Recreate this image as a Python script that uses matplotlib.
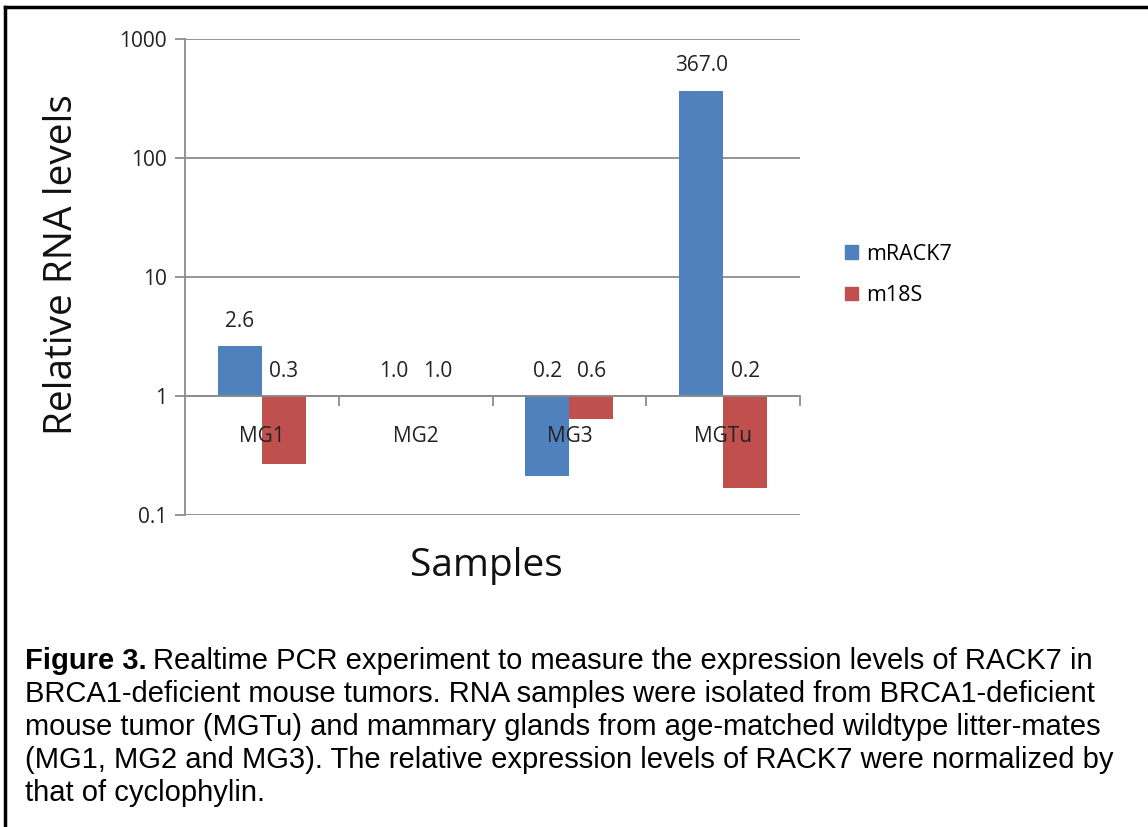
"""
RACK7 realtime PCR figure: relative RNA levels on a log scale, bars grown from 1.
"""
import matplotlib
matplotlib.use('Agg')
import matplotlib.pyplot as plt
import numpy as np
from matplotlib.lines import Line2D

samples = ['MG1', 'MG2', 'MG3', 'MGTu']
series_names = ['mRACK7', 'm18S']
mrack7 = [2.63, 1.0, 0.213, 367.0]
m18s = [0.268, 1.0, 0.64, 0.169]
y_ticks = [0.1, 1, 10, 100, 1000]
y_ticklabels = ['0.1', '1', '10', '100', '1000']

caption_lines = [
    'Realtime PCR experiment to measure the expression levels of RACK7 in',
    'BRCA1-deficient mouse tumors. RNA samples were isolated from BRCA1-deficient',
    'mouse tumor (MGTu) and mammary glands from age-matched wildtype litter-mates',
    '(MG1, MG2 and MG3). The relative expression levels of RACK7 were normalized by',
    'that of cyclophylin.',
]

BLUE = '#4F81BD'
RED = '#C0504D'
GRID = '#8C8C8C'
TXT = '#222222'
chart_font = 'Open Sans'
fs = 15

W, H = 1148, 827
fig = plt.figure(figsize=(W / 100, H / 100), dpi=100)
fig.patch.set_facecolor('white')

ax = fig.add_axes([185 / W, 1 - 515 / H, (800 - 185) / W, (515 - 39) / H])
ax.set_yscale('log')
ax.set_ylim(0.1, 1000)
ax.set_xlim(-0.5, len(samples) - 0.5)

x = np.arange(len(samples))
bw = 1 / 3.5  # gap width 150%
for vals, color, off in [(mrack7, BLUE, -bw / 2), (m18s, RED, bw / 2)]:
    vals = np.array(vals)
    ax.bar(x + off, vals - 1, width=bw, bottom=1, color=color, zorder=3)
    for xi, v in zip(x + off, vals):
        ax.annotate(f'{v:.1f}', xy=(xi, max(v, 1)), xytext=(0, 18),
                    textcoords='offset points', ha='center', va='center',
                    fontsize=fs, family=chart_font, color=TXT)

# category names sit just under the axis line, on top of the bars
for xi, name in zip(x, samples):
    ax.annotate(name, xy=(xi, 1), xytext=(0, -29), textcoords='offset points',
                ha='center', va='center', fontsize=fs, family=chart_font,
                color=TXT, zorder=6)

# y axis and grid
ax.set_yticks(y_ticks)
ax.set_yticklabels(y_ticklabels, family=chart_font, fontsize=fs)
ax.yaxis.set_minor_locator(matplotlib.ticker.NullLocator())
ax.tick_params(axis='y', colors=GRID, labelcolor=TXT, length=7, width=1.3, pad=6)
ax.yaxis.grid(True, color=GRID, linewidth=1.3, zorder=0)

# category axis crosses at y = 1
ax.spines['bottom'].set_position(('data', 1))
ax.spines['bottom'].set_color(GRID)
ax.spines['bottom'].set_linewidth(1.3)
ax.spines['bottom'].set_zorder(4)
ax.spines['left'].set_color(GRID)
ax.spines['left'].set_linewidth(1.3)
ax.spines['top'].set_visible(False)
ax.spines['right'].set_visible(False)
ax.set_xticks(x + 0.5)
ax.set_xticklabels([])
ax.tick_params(axis='x', which='major', colors=GRID, length=7, width=1.3)

fig.text(62 / W, 1 - 265 / H, 'Relative RNA levels', rotation=90, ha='center',
         va='center', fontsize=28, family=chart_font, color='#111111')
fig.text(486 / W, 1 - 566 / H, 'Samples', ha='center', va='center',
         fontsize=28, family=chart_font, color='#111111')

handles = [plt.Rectangle((0, 0), 1, 1, color=BLUE), plt.Rectangle((0, 0), 1, 1, color=RED)]
fig.legend(handles, series_names, loc='center left', bbox_to_anchor=(826 / W, 1 - 275 / H),
           frameon=False, prop={'family': chart_font, 'size': 15.5},
           handlelength=0.6, handleheight=0.6, handletextpad=0.35, labelspacing=0.95)

# caption
cap_fs = 21
line_y = [661, 694, 727, 760, 793]
fig_lbl = fig.text(25 / W, 1 - line_y[0] / H, 'Figure 3.', fontsize=cap_fs, weight='bold',
                   family='Liberation Sans', va='center', ha='left')
fig.canvas.draw()
bb = fig_lbl.get_window_extent()
fig.text(bb.x1 / W + 6 / W, 1 - line_y[0] / H, caption_lines[0], fontsize=cap_fs,
         family='Liberation Sans', va='center', ha='left')
for line, yy in zip(caption_lines[1:], line_y[1:]):
    fig.text(25 / W, 1 - yy / H, line, fontsize=cap_fs, family='Liberation Sans',
             va='center', ha='left')

# frame around the figure
fig.add_artist(Line2D([5 / W, 5 / W], [0, 1 - 7 / H], color='black', lw=2.5,
                      transform=fig.transFigure))
fig.add_artist(Line2D([5 / W, 1], [1 - 7 / H, 1 - 7 / H], color='black', lw=2.5,
                      transform=fig.transFigure))

fig.savefig('out.png', dpi=100)
